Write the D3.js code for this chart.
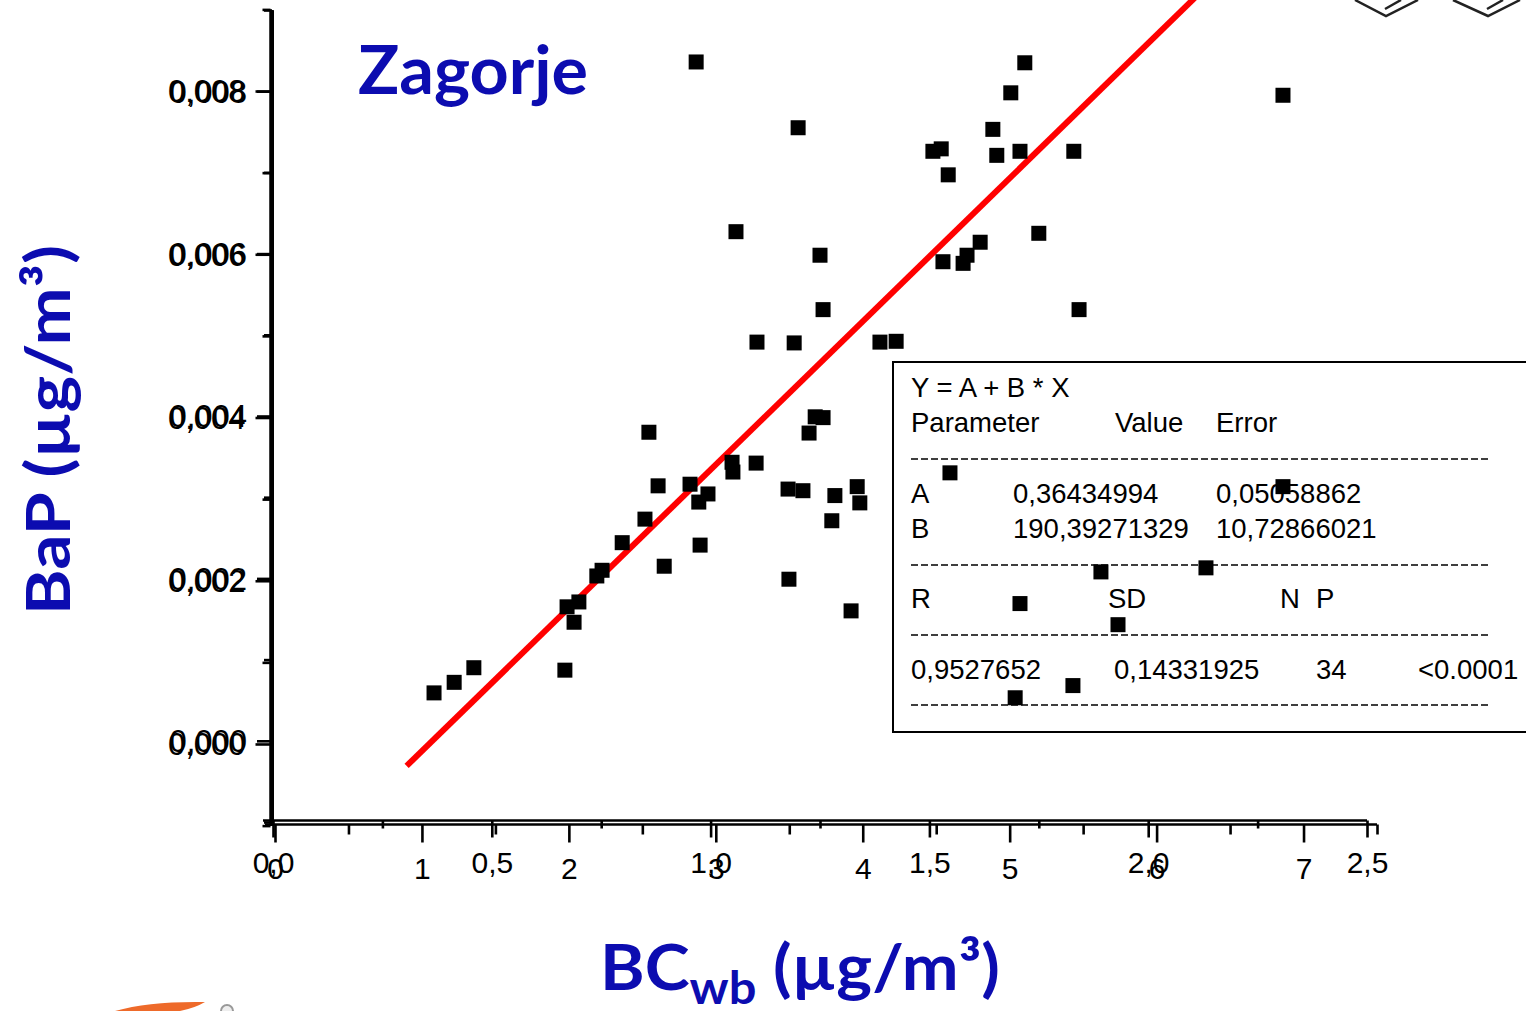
<!DOCTYPE html>
<html>
<head>
<meta charset="utf-8">
<script src="https://cdn.jsdelivr.net/npm/d3@7/dist/d3.min.js"></script>
<style>
  body { margin: 0; background: #fff; }
  text { font-family: "Liberation Sans", Arial, sans-serif; }
  .blue { font-family: Lato, "Open Sans", sans-serif; font-weight: bold; fill: #0c0cb0; }
</style>
</head>
<body>
<svg id="chart" width="1526" height="1011"></svg>
<script>
// BC (ug/m3) read against the 0..2.5 axis, BaP (ug/m3)
var bcValues = [0.368, 0.414, 0.459, 0.667, 0.672, 0.688, 0.699, 0.740, 0.752, 0.798,
                0.850, 0.859, 0.880, 0.894, 0.953, 0.967, 0.973, 0.976, 0.994, 1.049,
                1.051, 1.058, 1.104, 1.106, 1.177, 1.179, 1.191, 1.200, 1.211, 1.225,
                1.239, 1.250, 1.257, 1.257, 1.277, 1.284, 1.321, 1.335, 1.341, 1.387,
                1.424, 1.508, 1.527, 1.531, 1.543, 1.547, 1.577, 1.586, 1.616, 1.645,
                1.654, 1.686, 1.696, 1.707, 1.707, 1.718, 1.750, 1.830, 1.828, 1.842,
                1.892, 1.931, 2.132, 2.308, 2.308];
var bapValues = [0.00059, 0.00072, 0.00090, 0.00087, 0.00165, 0.00146, 0.00171, 0.00203, 0.00210, 0.00244,
                 0.00273, 0.00380, 0.00314, 0.00215, 0.00316, 0.00836, 0.00294, 0.00241, 0.00304, 0.00343,
                 0.00331, 0.00627, 0.00342, 0.00491, 0.00310, 0.00199, 0.00490, 0.00755, 0.00308, 0.00379,
                 0.00399, 0.00598, 0.00531, 0.00398, 0.00271, 0.00302, 0.00160, 0.00313, 0.00293, 0.00491,
                 0.00492, 0.00726, 0.00729, 0.00590, 0.00697, 0.00330, 0.00588, 0.00598, 0.00614, 0.00753,
                 0.00721, 0.00798, 0.00053, 0.00726, 0.00169, 0.00835, 0.00625, 0.00726, 0.00068, 0.00531,
                 0.00208, 0.00143, 0.00213, 0.00795, 0.00313];

// linear fit shown in the box: BC = A + B * BaP
var fitA = 0.36434994;
var fitB = 190.39271329;
var fitBapRange = [-0.00031, 0.0093];

var yMajor = [0, 0.002, 0.004, 0.006, 0.008];
var yMinor = [-0.001, 0.001, 0.003, 0.005, 0.007, 0.009];
var xMajorB = [0, 0.5, 1.0, 1.5, 2.0, 2.5];
var xMinorB = [0.25, 0.75, 1.25, 1.75, 2.25];
var xMajorA = [0, 1, 2, 3, 4, 5, 6, 7];
var xMinorA = [0.5, 1.5, 2.5, 3.5, 4.5, 5.5, 6.5, 7.5];

var fitHeader = ["Y = A + B * X"];
var fitColumns = ["Parameter", "Value", "Error"];
var fitRowA = ["A", "0,36434994", "0,05058862"];
var fitRowB = ["B", "190,39271329", "10,72866021"];
var statHeader = ["R", "SD", "N", "P"];
var statValues = ["0,9527652", "0,14331925", "34", "<0.0001"];

var svg = d3.select("#chart");
var comma = function (f) { return function (d) { return f(d).replace(".", ","); }; };

var x = d3.scaleLinear().domain([0, 2.5]).range([273, 1367]);
var xA = d3.scaleLinear().domain([0, 7.5]).range([275, 1377]);
var y = d3.scaleLinear().domain([-0.001, 0.009]).range([822, 10]);
var y2 = d3.scaleLinear().domain([-0.001, 0.009]).range([825.6, 9.4]);

function styleAxis(g, w) {
  g.selectAll("path").attr("stroke", "#000").attr("stroke-width", w);
  g.selectAll("line").attr("stroke", "#000").attr("stroke-width", 2.6);
  g.selectAll("text").attr("fill", "#000");
}

// two overlapping y axes (the source is a stacked pair of plots)
[[y2, 270.5], [y, 272]].forEach(function (p) {
  var sc = p[0], xp = p[1];
  var gMin = svg.append("g").attr("transform", "translate(" + xp + ",0)")
    .call(d3.axisLeft(sc).tickValues(yMinor).tickSize(8).tickSizeOuter(0).tickFormat(""));
  styleAxis(gMin, 3);
  var gMaj = svg.append("g").attr("transform", "translate(" + xp + ",0)")
    .call(d3.axisLeft(sc).tickValues(yMajor).tickSize(15).tickSizeOuter(0).tickFormat(comma(d3.format(".3f"))));
  styleAxis(gMaj, 3);
  gMaj.selectAll("text").attr("font-size", 31).attr("x", -25).attr("dy", "0.35em")
    .attr("font-family", "'Liberation Sans', Arial, sans-serif");
});

// x axis for 0..2.5
var gbMin = svg.append("g").attr("transform", "translate(0,820.5)")
  .call(d3.axisBottom(x).tickValues(xMinorB).tickSize(8).tickSizeOuter(0).tickFormat(""));
styleAxis(gbMin, 2.6);
gbMin.select("path").attr("d", "M263,0H1367");
var gbMaj = svg.append("g").attr("transform", "translate(0,820.5)")
  .call(d3.axisBottom(x).tickValues(xMajorB).tickSize(17).tickSizeOuter(0).tickFormat(comma(d3.format(".1f"))));
styleAxis(gbMaj, 0);
gbMaj.selectAll("text").attr("font-size", 30).attr("y", 52).attr("dy", 0);

// x axis for 0..7
var gaMin = svg.append("g").attr("transform", "translate(0,824.5)")
  .call(d3.axisBottom(xA).tickValues(xMinorA).tickSize(10).tickSizeOuter(0).tickFormat(""));
styleAxis(gaMin, 2.6);
gaMin.select("path").attr("d", "M265,0H1377");
var gaMaj = svg.append("g").attr("transform", "translate(0,824.5)")
  .call(d3.axisBottom(xA).tickValues(xMajorA).tickSize(18).tickSizeOuter(0).tickFormat(d3.format("d")));
styleAxis(gaMaj, 0);
gaMaj.selectAll("text").attr("font-size", 30).attr("y", 54).attr("dy", 0);

// y axis line
svg.append("line").attr("x1", 272).attr("x2", 272).attr("y1", y(0.009)).attr("y2", y(-0.001))
  .attr("stroke", "#000").attr("stroke-width", 3);

// fit line
var fitLine = d3.line()
  .x(function (d) { return x(fitA + fitB * d); })
  .y(function (d) { return y(d); });
svg.append("path").datum(fitBapRange).attr("d", fitLine)
  .attr("stroke", "#ff0000").attr("stroke-width", 6).attr("fill", "none");

// fit results box
var box = svg.append("g");
box.append("rect").attr("x", 893).attr("y", 362).attr("width", 700).attr("height", 370)
  .attr("fill", "#fff").attr("stroke", "#000").attr("stroke-width", 2);
function boxText(t, xp, yp) {
  box.append("text").attr("x", xp).attr("y", yp).attr("font-size", 27.5).attr("fill", "#000").text(t);
}
boxText(fitHeader[0], 911, 397);
[911, 1115, 1216].forEach(function (xp, i) { boxText(fitColumns[i], xp, 432); });
[911, 1013, 1216].forEach(function (xp, i) { boxText(fitRowA[i], xp, 503); });
[911, 1013, 1216].forEach(function (xp, i) { boxText(fitRowB[i], xp, 538); });
[911, 1108, 1280, 1316].forEach(function (xp, i) { boxText(statHeader[i], xp, 608); });
[911, 1114, 1316, 1418].forEach(function (xp, i) { boxText(statValues[i], xp, 679); });
[459, 565, 635, 705].forEach(function (yp) {
  box.append("line").attr("x1", 911).attr("x2", 1488).attr("y1", yp).attr("y2", yp)
    .attr("stroke", "#000").attr("stroke-width", 1.5).attr("stroke-dasharray", "7,3");
});

// data points
svg.append("g").selectAll("rect").data(bcValues).join("rect")
  .attr("x", function (d) { return x(d) - 7.5; })
  .attr("y", function (d, i) { return y(bapValues[i]) - 7.5; })
  .attr("width", 15).attr("height", 15).attr("fill", "#000");

// titles
svg.append("text").attr("class", "blue").attr("x", 358).attr("y", 94)
  .attr("font-size", 66).attr("textLength", 230).attr("lengthAdjust", "spacingAndGlyphs").text("Zagorje");

svg.append("text").attr("class", "blue").attr("transform", "translate(70,615) rotate(-90)")
  .attr("font-size", 62).attr("textLength", 370).attr("lengthAdjust", "spacingAndGlyphs").text("BaP (µg/m³)");

var xt = svg.append("text").attr("class", "blue").attr("x", 600).attr("y", 990).attr("font-size", 64)
  .attr("textLength", 400).attr("lengthAdjust", "spacingAndGlyphs");
xt.append("tspan").text("BC");
xt.append("tspan").attr("dy", 14).attr("font-size", 46).text("wb");
xt.append("tspan").attr("dy", -14).text(" (µg/m³)");

// logo fragments at the page edges
svg.append("path").attr("d", "M1355,0 L1386,16 L1418,0 M1385,9 L1401,0 M1453,0 L1488,16 L1520,0 M1487,9 L1503,0")
  .attr("fill", "none").attr("stroke", "#222").attr("stroke-width", 2.5);
svg.append("path").attr("d", "M115,1011 Q150,1001 205,1002 Q195,1008 180,1011 Z").attr("fill", "#ee6a2a");
svg.append("circle").attr("cx", 227).attr("cy", 1011).attr("r", 6).attr("fill", "#eee").attr("stroke", "#999").attr("stroke-width", 2);
</script>
</body>
</html>
